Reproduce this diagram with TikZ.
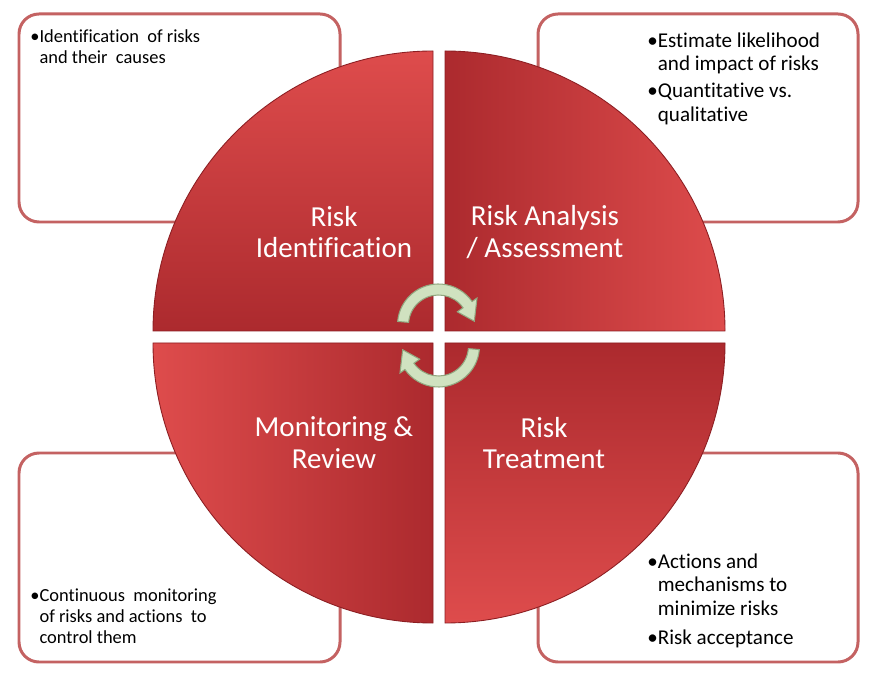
\documentclass[tikz,border=0pt]{standalone}
\usepackage{fontspec}
\setmainfont{Carlito}[Ligatures=NoCommon]
\usetikzlibrary{calc}
\definecolor{boxline}{RGB}{196,98,98}
\definecolor{redlight}{RGB}{222,76,76}
\definecolor{reddark}{RGB}{172,42,46}
\definecolor{rededge}{RGB}{140,30,34}
\definecolor{arrowfill}{RGB}{208,226,192}
\definecolor{arrowline}{RGB}{146,168,128}
\def\quarter[#1](#2)(#3:#4){\shadedraw[#1] (#2) -- ++(#3:280) arc (#3:#4:280) -- cycle;}
\def\cyclearrow(#1)(#2){\begin{scope}[shift={(#1)}, rotate=#2]
	\filldraw[fill=arrowfill, draw=arrowline, line width=0.6pt] (175:41) arc (175:35:41) -- (35:47) -- (6:36) -- (35:23) -- (35:30) arc (35:175:30) -- cycle;
	\end{scope}}

\begin{document}
\begin{tikzpicture}[x=0.02cm, y=0.02cm,
		notebox/.style={draw=boxline, line width=1.7pt, rounded corners=0.4cm, fill=white},
		steplabel/.style={text=white, font=\fontsize{16.5}{18.1}\selectfont, align=center},
		smallnote/.style={anchor=north west, inner sep=0pt, align=left, font=\fontsize{10.5}{11.9}\selectfont},
		largenote/.style={anchor=north west, inner sep=0pt, align=left, font=\fontsize{12}{13.6}\selectfont}]
			%%%%% START %%%%%
			
			\fill[white] (0, 0) rectangle (874, 686);
			
			\draw[notebox] (19, 464) rectangle (340, 672);
			\draw[notebox] (538, 464) rectangle (858, 672);
			\draw[notebox] (19, 24) rectangle (340, 233);
			\draw[notebox] (538, 24) rectangle (858, 233);
			
			\quarter[top color=redlight, bottom color=reddark, draw=rededge, line width=0.5pt](433, 355)(90:180)
			\quarter[left color=reddark, right color=redlight, draw=rededge, line width=0.5pt](445, 355)(0:90)
			\quarter[top color=reddark, bottom color=redlight, draw=rededge, line width=0.5pt](445, 343)(270:360)
			\quarter[left color=redlight, right color=reddark, draw=rededge, line width=0.5pt](433, 343)(180:270)
			
			\cyclearrow(438.5, 361)(0)
			\cyclearrow(438.5, 340)(180)
			
			\node[steplabel] (ident) at (334, 454) {Risk\\Identification};
			\node[steplabel] (assess) at (545, 454) {Risk Analysis\\/ Assessment};
			\node[steplabel] (monitor) at (334, 243) {Monitoring \&\\Review};
			\node[steplabel] (treat) at (544, 243) {Risk\\Treatment};
			
			\node[smallnote] (identnote) at (30, 658) {\begin{tabular}{@{}l@{}l@{}}\textbullet & Identification\ \ of risks\\ & and their\ \ causes\end{tabular}};
			\node[largenote] (assessnote) at (647, 656) {\begin{tabular}{@{}l@{}l@{}}\textbullet & Estimate likelihood\\ & and impact of risks\\[1.7pt] \textbullet & Quantitative vs.\\ & qualitative\end{tabular}};
			\node[smallnote] (monitornote) at (30, 99) {\begin{tabular}{@{}l@{}l@{}}\textbullet & Continuous\ \ monitoring\\ & of risks and actions\ \ to\\ & control them\end{tabular}};
			\node[largenote] (treatnote) at (647, 135) {\begin{tabular}{@{}l@{}l@{}}\textbullet & Actions and\\ & mechanisms to\\ & minimize risks\\[2.5pt] \textbullet & Risk acceptance\end{tabular}};
			
			%%%%% END %%%%%
		\end{tikzpicture}
\end{document}
